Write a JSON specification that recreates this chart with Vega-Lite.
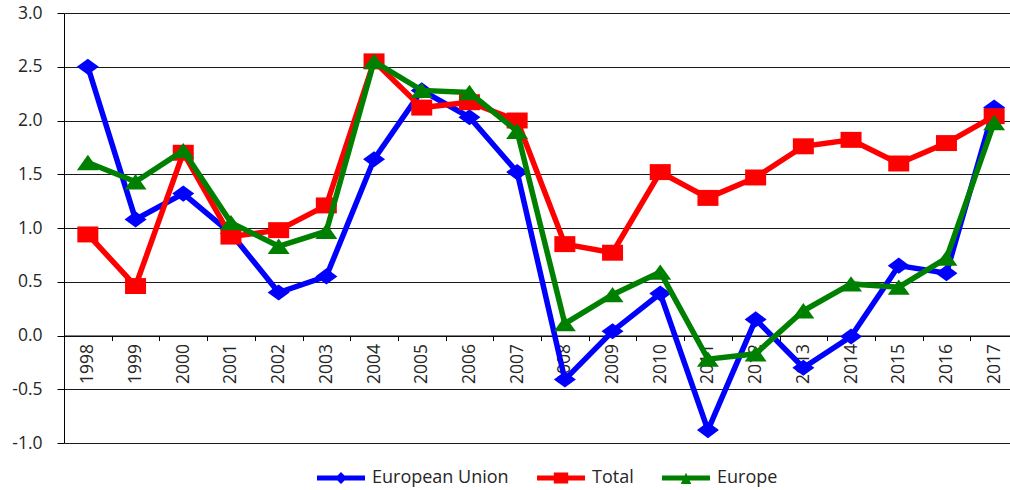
{
  "$schema": "https://vega.github.io/schema/vega-lite/v6.json",
  "width": 946,
  "height": 430,
  "autosize": "none",
  "padding": {"left": 64, "top": 13, "right": 0, "bottom": 47},
  "background": "white",
  "config": {
    "view": {"stroke": null},
    "font": "Open Sans",
    "locale": {"number": {"decimal": ".", "thousands": ",", "grouping": [3], "currency": ["$", ""], "minus": "-"}}
  },
  "resolve": {"legend": {"color": "independent", "shape": "independent"}},
  "data": {"values": [
    {"year": "1998", "series": "European Union", "value": 2.50},
    {"year": "1999", "series": "European Union", "value": 1.08},
    {"year": "2000", "series": "European Union", "value": 1.32},
    {"year": "2001", "series": "European Union", "value": 0.95},
    {"year": "2002", "series": "European Union", "value": 0.40},
    {"year": "2003", "series": "European Union", "value": 0.55},
    {"year": "2004", "series": "European Union", "value": 1.64},
    {"year": "2005", "series": "European Union", "value": 2.28},
    {"year": "2006", "series": "European Union", "value": 2.03},
    {"year": "2007", "series": "European Union", "value": 1.52},
    {"year": "2008", "series": "European Union", "value": -0.41},
    {"year": "2009", "series": "European Union", "value": 0.04},
    {"year": "2010", "series": "European Union", "value": 0.39},
    {"year": "2011", "series": "European Union", "value": -0.88},
    {"year": "2012", "series": "European Union", "value": 0.15},
    {"year": "2013", "series": "European Union", "value": -0.30},
    {"year": "2014", "series": "European Union", "value": -0.01},
    {"year": "2015", "series": "European Union", "value": 0.65},
    {"year": "2016", "series": "European Union", "value": 0.58},
    {"year": "2017", "series": "European Union", "value": 2.12},
    {"year": "1998", "series": "Total", "value": 0.94},
    {"year": "1999", "series": "Total", "value": 0.46},
    {"year": "2000", "series": "Total", "value": 1.70},
    {"year": "2001", "series": "Total", "value": 0.92},
    {"year": "2002", "series": "Total", "value": 0.98},
    {"year": "2003", "series": "Total", "value": 1.21},
    {"year": "2004", "series": "Total", "value": 2.55},
    {"year": "2005", "series": "Total", "value": 2.12},
    {"year": "2006", "series": "Total", "value": 2.17},
    {"year": "2007", "series": "Total", "value": 2.00},
    {"year": "2008", "series": "Total", "value": 0.85},
    {"year": "2009", "series": "Total", "value": 0.77},
    {"year": "2010", "series": "Total", "value": 1.52},
    {"year": "2011", "series": "Total", "value": 1.28},
    {"year": "2012", "series": "Total", "value": 1.47},
    {"year": "2013", "series": "Total", "value": 1.76},
    {"year": "2014", "series": "Total", "value": 1.82},
    {"year": "2015", "series": "Total", "value": 1.60},
    {"year": "2016", "series": "Total", "value": 1.79},
    {"year": "2017", "series": "Total", "value": 2.04},
    {"year": "1998", "series": "Europe", "value": 1.61},
    {"year": "1999", "series": "Europe", "value": 1.43},
    {"year": "2000", "series": "Europe", "value": 1.72},
    {"year": "2001", "series": "Europe", "value": 1.05},
    {"year": "2002", "series": "Europe", "value": 0.83},
    {"year": "2003", "series": "Europe", "value": 0.97},
    {"year": "2004", "series": "Europe", "value": 2.55},
    {"year": "2005", "series": "Europe", "value": 2.28},
    {"year": "2006", "series": "Europe", "value": 2.26},
    {"year": "2007", "series": "Europe", "value": 1.90},
    {"year": "2008", "series": "Europe", "value": 0.11},
    {"year": "2009", "series": "Europe", "value": 0.38},
    {"year": "2010", "series": "Europe", "value": 0.59},
    {"year": "2011", "series": "Europe", "value": -0.22},
    {"year": "2012", "series": "Europe", "value": -0.17},
    {"year": "2013", "series": "Europe", "value": 0.23},
    {"year": "2014", "series": "Europe", "value": 0.48},
    {"year": "2015", "series": "Europe", "value": 0.45},
    {"year": "2016", "series": "Europe", "value": 0.72},
    {"year": "2017", "series": "Europe", "value": 1.98}
  ]},
  "encoding": {
    "x": {
      "field": "year", "type": "ordinal",
      "scale": {"type": "band", "paddingInner": 0, "paddingOuter": 0, "range": [0, 954]},
      "axis": {
        "title": null, "offset": -107.5, "tickBand": "extent", "tickSize": 5,
        "tickColor": "#000000", "domainColor": "#000000", "domainWidth": 1,
        "labelAngle": -90, "labelAlign": "right", "labelBaseline": "middle",
        "labelPadding": 3, "labelFontSize": 17.5, "labelColor": "#262626", "grid": false
      }
    },
    "y": {
      "field": "value", "type": "quantitative",
      "scale": {"domain": [-1, 3], "nice": false, "zero": false},
      "axis": {
        "title": null, "values": [-1, -0.5, 0, 0.5, 1, 1.5, 2, 2.5, 3], "format": ".1f",
        "tickSize": 7, "tickColor": "#000000", "domainColor": "#000000",
        "labelPadding": 15, "labelFontSize": 17.5, "labelColor": "#262626",
        "grid": true, "gridColor": "#1a1a1a", "gridWidth": 1
      }
    }
  },
  "layer": [
    {
      "transform": [{"filter": "datum.series === 'European Union'"}],
      "mark": {"type": "line", "strokeWidth": 5.5, "point": {"shape": "M-1,0L0,-0.73L1,0L0,0.73Z", "size": 484, "filled": true, "opacity": 1}},
      "encoding": {"color": {"field": "series", "type": "nominal", "scale": {"domain": ["European Union", "Total", "Europe"], "range": ["#0000FF", "#FF0000", "#008000"]}, "legend": null}}
    },
    {
      "transform": [{"filter": "datum.series === 'Total'"}],
      "mark": {"type": "line", "strokeWidth": 5.5, "point": {"shape": "M-1,-0.76H1V0.76H-1Z", "size": 441, "filled": true, "opacity": 1}},
      "encoding": {"color": {"field": "series", "type": "nominal", "legend": null}}
    },
    {
      "transform": [{"filter": "datum.series === 'Europe'"}],
      "mark": {"type": "line", "strokeWidth": 5.5, "point": {"shape": "M0,-0.7L1,0.7L-1,0.7Z", "size": 484, "filled": true, "opacity": 1}},
      "encoding": {"color": {"field": "series", "type": "nominal", "legend": null}}
    },
    {
      "transform": [{"filter": "datum.value > 100"}],
      "mark": {"type": "point", "filled": true, "opacity": 1, "size": 2304},
      "encoding": {
        "color": {
          "field": "series", "type": "nominal",
          "legend": {
            "title": null, "orient": "none", "direction": "horizontal",
            "legendX": 253, "legendY": 441, "padding": 0,
            "symbolSize": 2304, "symbolStrokeWidth": 0, "labelOffset": 7,
            "labelFontSize": 18, "labelColor": "#262626", "columnPadding": 28
          }
        },
        "shape": {
          "field": "series", "type": "nominal",
          "scale": {"domain": ["European Union", "Total", "Europe"], "range": [
            "M-1,-0.1H1V0.1H-1Z M-0.25,0L0,-0.25L0.25,0L0,0.25Z",
            "M-1,-0.1H1V0.1H-1Z M-0.3,-0.23H0.3V0.23H-0.3Z",
            "M-1,-0.1H1V0.1H-1Z M0,-0.22L0.22,0.25H-0.22Z"
          ]},
          "legend": {
            "title": null, "orient": "none", "direction": "horizontal",
            "legendX": 253, "legendY": 441, "padding": 0,
            "symbolSize": 2304, "symbolStrokeWidth": 0, "labelOffset": 7,
            "labelFontSize": 18, "labelColor": "#262626", "columnPadding": 28
          }
        }
      }
    }
  ]
}
